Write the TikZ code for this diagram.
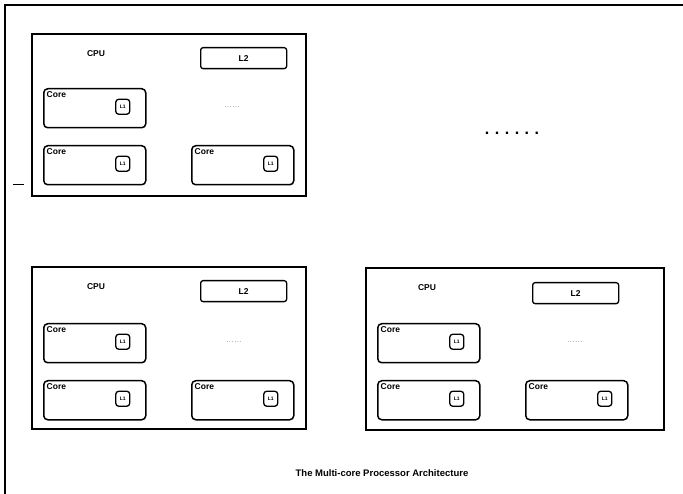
\documentclass[tikz,border=0pt]{standalone}
\usepackage{fontspec}
\setmainfont{Liberation Sans}
\begin{document}
\begin{tikzpicture}[x=1pt,y=-1pt,
 frame/.style={line width=1.6pt},
 cpubox/.style={draw, line width=1.6pt, minimum width=#1, minimum height=162pt, anchor=north west, inner sep=0pt},
 corebox/.style={draw, line width=1.5pt, rounded corners=4pt, minimum width=102pt, minimum height=39pt, anchor=north west, inner sep=0pt},
 l2box/.style={draw, line width=1.3pt, rounded corners=2.5pt, minimum width=86pt, minimum height=21pt, anchor=north west, inner sep=0pt, font=\bfseries\fontsize{8.5}{9}\selectfont},
 l1box/.style={draw, line width=1.3pt, rounded corners=3pt, minimum width=14pt, minimum height=15pt, inner sep=0pt, font=\bfseries\fontsize{5}{5}\selectfont},
 lbl/.style={font=\bfseries\fontsize{8.5}{9}\selectfont, inner sep=1pt},
 smalldots/.style={font=\fontsize{6}{7}\selectfont, text=black!70, inner sep=0pt},
]
\useasboundingbox (0,0) rectangle (683,494);
% outer frame
\coordinate (ftl) at (5,5);
\coordinate (ftr) at (683,5);
\coordinate (fbl) at (5,494);
\draw[frame] (ftr) -- (ftl) -- (fbl);
\coordinate (tickA) at (13,184);
\coordinate (tickB) at (24,184);
\draw[line width=0.8pt] (tickA) -- (tickB);

% ---------- top CPU block
\begin{scope}[shift={(31,33)}]
\node[cpubox=274pt] (a-box) at (0,0) {};
\node[lbl] (a-cpu) at (65,21) {CPU};
\node[l2box] (a-l2) at (169,14) {L2};
\node[smalldots] (a-dots) at (201,74) {.\hspace{1pt}.\hspace{1pt}.\hspace{1pt}.\hspace{1pt}.\hspace{1pt}.};
\node[corebox] (a-c1) at (12,55) {};
\node[corebox] (a-c2) at (12,112) {};
\node[corebox] (a-c3) at (160,112) {};
\end{scope}
\foreach \c in {a-c1,a-c2,a-c3}{
 \node[lbl, anchor=north west] (\c-t) at ([xshift=2.5pt,yshift=-2pt]\c.north west) {Core};
 \node[l1box] (\c-l1) at ([xshift=28pt,yshift=1.5pt]\c.center) {L1};
}

% ---------- bottom-left CPU block
\begin{scope}[shift={(31,266)}]
\node[cpubox=274pt] (b-box) at (0,0) {};
\node[lbl] (b-cpu) at (65,21) {CPU};
\node[l2box] (b-l2) at (169,14) {L2};
\node[smalldots] (b-dots) at (203,76) {.\hspace{1pt}.\hspace{1pt}.\hspace{1pt}.\hspace{1pt}.\hspace{1pt}.};
\node[corebox] (b-c1) at (12,57) {};
\node[corebox] (b-c2) at (12,114) {};
\node[corebox] (b-c3) at (160,114) {};
\end{scope}
\foreach \c in {b-c1,b-c2,b-c3}{
 \node[lbl, anchor=north west] (\c-t) at ([xshift=2.5pt,yshift=-2pt]\c.north west) {Core};
 \node[l1box] (\c-l1) at ([xshift=28pt,yshift=1.5pt]\c.center) {L1};
}

% ---------- bottom-right CPU block
\begin{scope}[shift={(365,267)}]
\node[cpubox=298pt] (r-box) at (0,0) {};
\node[lbl] (r-cpu) at (62,21) {CPU};
\node[l2box] (r-l2) at (167,15) {L2};
\node[smalldots] (r-dots) at (210,75) {.\hspace{1pt}.\hspace{1pt}.\hspace{1pt}.\hspace{1pt}.\hspace{1pt}.};
\node[corebox] (r-c1) at (12,56) {};
\node[corebox] (r-c2) at (12,113) {};
\node[corebox] (r-c3) at (160,113) {};
\end{scope}
\foreach \c in {r-c1,r-c2,r-c3}{
 \node[lbl, anchor=north west] (\c-t) at ([xshift=2.5pt,yshift=-2pt]\c.north west) {Core};
 \node[l1box] (\c-l1) at ([xshift=28pt,yshift=1.5pt]\c.center) {L1};
}

% big dots top right
\node[font=\bfseries\fontsize{16}{16}\selectfont, inner sep=0pt] (bigdots) at (512,133)
 {.\hspace{5.5pt}.\hspace{5.5pt}.\hspace{5.5pt}.\hspace{5.5pt}.\hspace{5.5pt}.};

% caption
\node[font=\bfseries\fontsize{9.5}{10}\selectfont, inner sep=0pt] (caption) at (382,473)
 {The Multi-core Processor Architecture};
\end{tikzpicture}
\end{document}
